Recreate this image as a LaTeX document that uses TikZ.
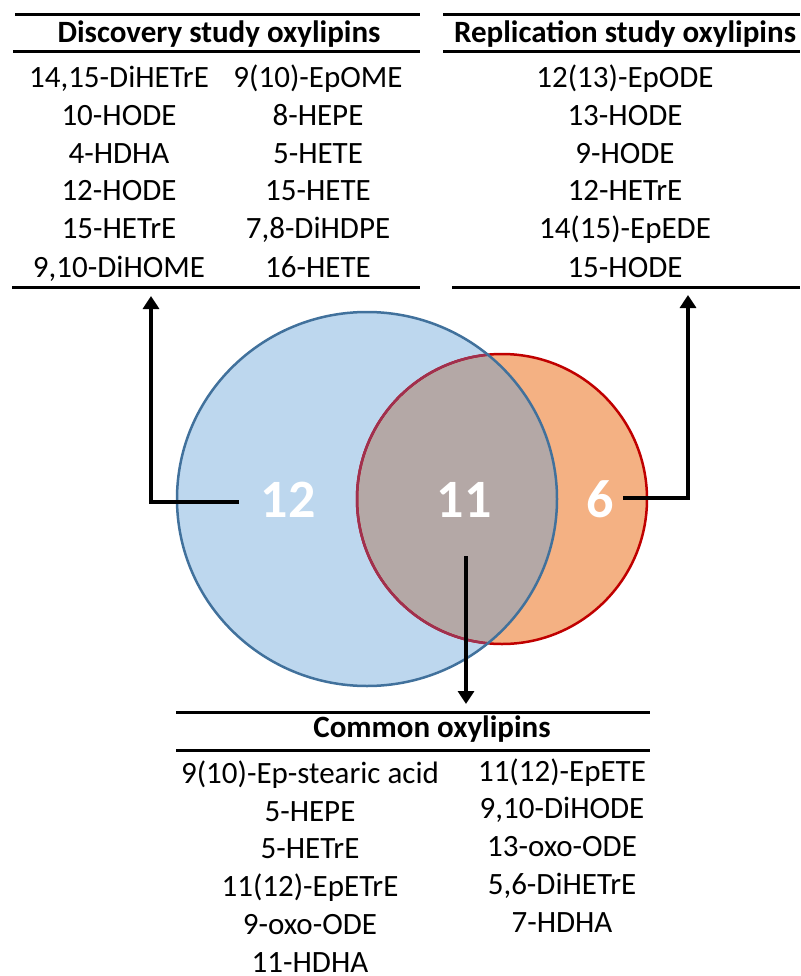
\documentclass[tikz,border=0pt]{standalone}
\usepackage{fontspec}
\setmainfont{Carlito}
\usetikzlibrary{arrows.meta}
\definecolor{bluefill}{HTML}{BDD7EE}
\definecolor{bluestroke}{HTML}{41719C}
\definecolor{orangefill}{HTML}{F4B183}
\definecolor{overlapfill}{HTML}{B4A8A6}
\definecolor{redstroke}{HTML}{C00000}
\definecolor{mutedred}{HTML}{A0304F}
\tikzset{
  txt/.style={font=\fontsize{31}{37}\selectfont, anchor=base, inner sep=0pt},
  hdr/.style={font=\bfseries\fontsize{31}{37}\selectfont, anchor=base, inner sep=0pt},
  num/.style={font=\bfseries\fontsize{54}{60}\selectfont, text=white, anchor=base, inner sep=0pt},
  rule/.style={line width=3pt},
  arr/.style={line width=4pt, -{Triangle[width=16pt,length=13pt]}},
}
\begin{document}
\begin{tikzpicture}[x=1pt,y=-1pt]
\useasboundingbox (0,0) rectangle (800,976);
% ---- Venn diagram ----
\fill[orangefill] (502,499) circle[radius=145pt];
\fill[bluefill] (367,499) ellipse[x radius=190pt, y radius=187pt];
\begin{scope}
  \clip (502,499) circle[radius=145pt];
  \fill[overlapfill] (367,499) ellipse[x radius=190pt, y radius=187pt];
\end{scope}
\draw[redstroke, line width=2.5pt] (502,499) circle[radius=145pt];
\begin{scope}
  \clip (367,499) ellipse[x radius=190pt, y radius=187pt];
  \draw[mutedred, line width=2.5pt] (502,499) circle[radius=145pt];
\end{scope}
\draw[bluestroke, line width=2.5pt] (367,499) ellipse[x radius=190pt, y radius=187pt];
\node[num] (n12) at (288,517) {12};
\node[num] (n11) at (464,517) {11};
\node[num] (n6) at (600,517) {6};
% ---- Discovery table ----
\draw[rule] (15,15) -- (420,15);
\node[hdr] (dh) at (219,43) {Discovery study oxylipins};
\draw[rule] (13,52) -- (420,52);
\node[txt] (d1) at (119,88) {14,15-DiHETrE};
\node[txt] (d2) at (119,126) {10-HODE};
\node[txt] (d3) at (119,164) {4-HDHA};
\node[txt] (d4) at (119,201) {12-HODE};
\node[txt] (d5) at (119,239) {15-HETrE};
\node[txt] (d6) at (119,277) {9,10-DiHOME};
\node[txt] (d7) at (318,88) {9(10)-EpOME};
\node[txt] (d8) at (318,126) {8-HEPE};
\node[txt] (d9) at (318,164) {5-HETE};
\node[txt] (d10) at (318,201) {15-HETE};
\node[txt] (d11) at (318,239) {7,8-DiHDPE};
\node[txt] (d12) at (318,277) {16-HETE};
\draw[rule] (12,287) -- (420,287);
\coordinate (dtab) at (151,296);
% ---- Replication table ----
\draw[rule] (443,15) -- (800,15);
\node[hdr] (rh) at (625,43) {Replication study oxylipins};
\draw[rule] (443,52) -- (800,52);
\node[txt] (r1) at (625,88) {12(13)-EpODE};
\node[txt] (r2) at (625,126) {13-HODE};
\node[txt] (r3) at (625,164) {9-HODE};
\node[txt] (r4) at (625,201) {12-HETrE};
\node[txt] (r5) at (625,239) {14(15)-EpEDE};
\node[txt] (r6) at (625,277) {15-HODE};
\draw[rule] (452,287) -- (800,287);
\coordinate (rtab) at (688,295);
% ---- Common table ----
\draw[rule] (176,712) -- (650,712);
\node[hdr] (ch) at (432,737) {Common oxylipins};
\draw[rule] (176,750) -- (650,750);
\node[txt] (c1) at (310,783) {9(10)-Ep-stearic acid};
\node[txt] (c2) at (310,821) {5-HEPE};
\node[txt] (c3) at (310,858) {5-HETrE};
\node[txt] (c4) at (310,896) {11(12)-EpETrE};
\node[txt] (c5) at (310,934) {9-oxo-ODE};
\node[txt] (c6) at (310,972) {11-HDHA};
\node[txt] (c7) at (562,781) {11(12)-EpETE};
\node[txt] (c8) at (562,818) {9,10-DiHODE};
\node[txt] (c9) at (562,856) {13-oxo-ODE};
\node[txt] (c10) at (562,894) {5,6-DiHETrE};
\node[txt] (c11) at (562,932) {7-HDHA};
\coordinate (ctab) at (466,704);
% ---- connectors ----
\coordinate (s12) at (239,502);
\coordinate (s6) at (623,498);
\coordinate (s11) at (466,556);
\draw[arr] (s12) -| (dtab);
\draw[arr] (s6) -| (rtab);
\draw[arr] (s11) -- (ctab);
\end{tikzpicture}
\end{document}
